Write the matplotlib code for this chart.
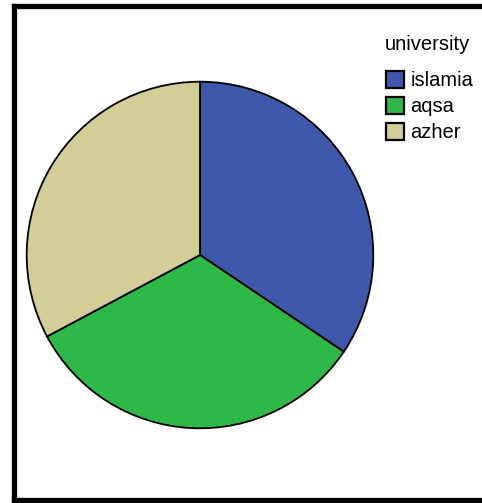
import matplotlib
matplotlib.use("Agg")
import matplotlib.pyplot as plt
from matplotlib.lines import Line2D

plt.rcParams['font.family'] = ['Liberation Sans', 'DejaVu Sans']

# Data
universities = ['islamia', 'aqsa', 'azher']
counts = [105, 100, 100]
colors = ['#3e58ac', '#2eb848', '#d3ce97']

W, H = 482, 503
fig = plt.figure(figsize=(W / 100, H / 100), dpi=100)

# pie axes, centre ~ (200, 255) px, radius ~173 px
cx, cy, r = 200, 255, 173.3
ax = fig.add_axes([(cx - r) / W, (H - cy - r) / H, 2 * r / W, 2 * r / H])
wedges, _ = ax.pie(counts, colors=colors, startangle=90, counterclock=False,
                   radius=1, wedgeprops=dict(edgecolor='black', linewidth=1.3))
ax.set_xlim(-1, 1)
ax.set_ylim(-1, 1)
ax.set_aspect('equal')
ax.axis('off')

# legend top right (title drawn as its own text)
fs = 14.5
fig.text(385 / W, 1 - 45 / H, 'university', fontsize=fs, ha='left', va='center')
leg = fig.legend(wedges, universities, loc='upper left',
                 bbox_to_anchor=(386 / W, 1 - 71 / H), frameon=False,
                 fontsize=fs, handlelength=0.9, handleheight=0.9,
                 handletextpad=0.3, labelspacing=0.33,
                 borderaxespad=0, borderpad=0)
for h in leg.legend_handles:
    h.set_linewidth(1.6)

# thick black frame (right side cut off in the original)
lw = 3.8
top, bot, left = 1 - 5.5 / H, 3 / H, 13.5 / W
fig.add_artist(Line2D([left, left], [bot, top], color='black', lw=lw,
                      transform=fig.transFigure, solid_capstyle='projecting'))
fig.add_artist(Line2D([left, 1.01], [top, top], color='black', lw=lw,
                      transform=fig.transFigure, solid_capstyle='projecting'))
fig.add_artist(Line2D([left, 1.01], [bot, bot], color='black', lw=lw,
                      transform=fig.transFigure, solid_capstyle='projecting'))

fig.savefig('out.png', dpi=100)
